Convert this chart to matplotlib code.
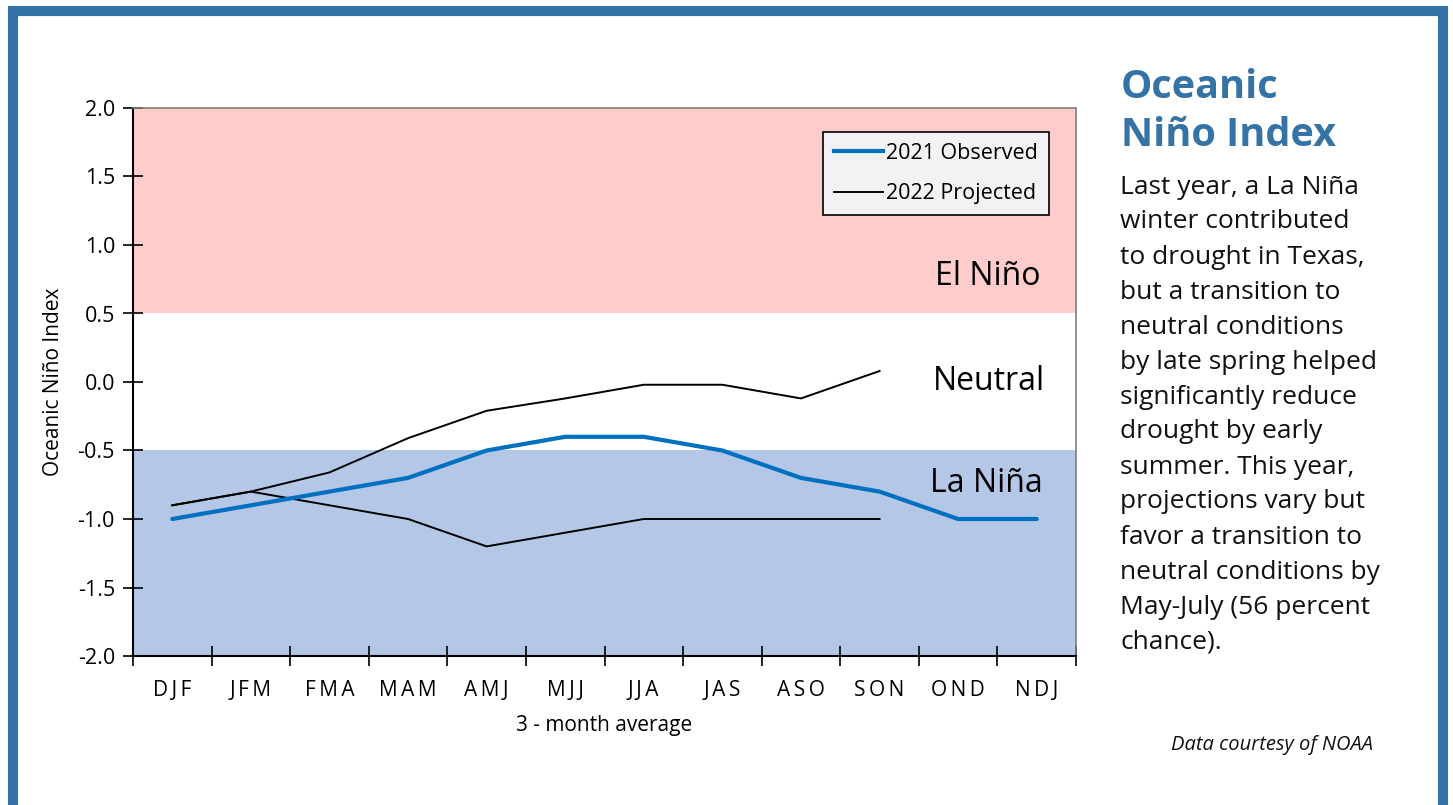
import matplotlib
matplotlib.use("Agg")
import matplotlib.pyplot as plt
from matplotlib.patches import Rectangle
from matplotlib.lines import Line2D

# data
seasons = ["DJF", "JFM", "FMA", "MAM", "AMJ", "MJJ",
           "JJA", "JAS", "ASO", "SON", "OND", "NDJ"]
observed_2021 = [-1.0, -0.9, -0.8, -0.7, -0.5, -0.4, -0.4, -0.5, -0.7, -0.8, -1.0, -1.0]
projected_high = [-0.9, -0.8, -0.66, -0.41, -0.21, -0.12, -0.02, -0.02, -0.12, 0.08]
projected_low = [-0.9, -0.8, -0.9, -1.0, -1.2, -1.1, -1.0, -1.0, -1.0, -1.0]
y_ticks = [2.0, 1.5, 1.0, 0.5, 0.0, -0.5, -1.0, -1.5, -2.0]

body_lines = [
    "Last year, a La Niña",
    "winter contributed",
    "to drought in Texas,",
    "but a transition to",
    "neutral conditions",
    "by late spring helped",
    "significantly reduce",
    "drought by early",
    "summer. This year,",
    "projections vary but",
    "favor a transition to",
    "neutral conditions by",
    "May-July (56 percent",
    "chance).",
]

BLUE_FRAME = "#3572A5"
plt.rcParams["font.family"] = ["Open Sans", "DejaVu Sans"]

W, H = 1453, 805
fig = plt.figure(figsize=(W / 100, H / 100), dpi=100)
fig.patch.set_facecolor("white")

# outer frame
fig.add_artist(Rectangle((13 / W, -0.02), 1430 / W, 1 - 10.5 / H + 0.02,
                         transform=fig.transFigure, fill=False,
                         edgecolor=BLUE_FRAME, linewidth=7.3))

ax = fig.add_axes([133 / W, 1 - 656 / H, (1076 - 133) / W, (656 - 108) / H])
n = len(seasons)
ax.set_xlim(-0.5, n - 0.5)
ax.set_ylim(-2.0, 2.0)

# ENSO bands
ax.axhspan(0.5, 2.0, color="#FFCCCC", zorder=0, lw=0)
ax.axhspan(-2.0, -0.5, color="#B4C7E7", zorder=0, lw=0)

x_obs = list(range(len(observed_2021)))
x_proj = list(range(len(projected_high)))
ax.plot(x_obs, observed_2021, color="#0070C0", lw=3.0, solid_capstyle="round", zorder=3)
ax.plot(x_proj, projected_high, color="black", lw=1.4, zorder=2)
ax.plot(x_proj, projected_low, color="black", lw=1.4, zorder=2)

# axes styling
ax.set_yticks(y_ticks)
ax.set_yticklabels([f"{v:.1f}" for v in y_ticks], fontsize=15.5)
ax.set_xticks([i - 0.5 for i in range(n + 1)])
ax.set_xticklabels([])
ax.set_xticks(range(n), minor=True)
spaced = ["\u2009".join(s) for s in seasons]
ax.set_xticklabels(spaced, minor=True, fontsize=15)
ax.tick_params(axis="x", which="minor", length=0, pad=17)
ax.tick_params(axis="both", which="major", direction="inout", length=14, width=1.2)
ax.tick_params(axis="y", pad=6)
for side in ["left", "bottom"]:
    ax.spines[side].set_linewidth(1.5)
    ax.spines[side].set_color("black")
for side in ["top", "right"]:
    ax.spines[side].set_linewidth(1.2)
    ax.spines[side].set_color("#7f7f7f")

ax.set_xlabel("3 - month average", fontsize=15, labelpad=10)
ax.set_ylabel("Oceanic Niño Index", fontsize=15, labelpad=10)

# band labels
ax.text(11.05, 0.77, "El Niño", fontsize=23, ha="right", va="center")
ax.text(11.1, 0.0, "Neutral", fontsize=23, ha="right", va="center")
ax.text(11.08, -0.74, "La Niña", fontsize=23, ha="right", va="center")

handles = [Line2D([], [], color="#0070C0", lw=3.0),
           Line2D([], [], color="black", lw=1.4)]
leg = ax.legend(handles, ["2021 Observed", "2022 Projected"], loc="upper right",
                bbox_to_anchor=(0.9714, 0.9562), fontsize=15.5, frameon=True,
                fancybox=False, edgecolor="black", facecolor="#F2F2F2",
                framealpha=1, handlelength=2.3, handletextpad=0.15,
                labelspacing=0.9, borderpad=0.5, borderaxespad=0)
leg.get_frame().set_linewidth(1.2)

# side panel
fig.text(1121 / W, 1 - 87 / H, "Oceanic", fontsize=28.5, fontweight="bold",
         color=BLUE_FRAME, va="center", ha="left")
fig.text(1121 / W, 1 - 135 / H, "Niño Index", fontsize=28.5, fontweight="bold",
         color=BLUE_FRAME, va="center", ha="left")
y0 = 187
step = (642 - 187) / (len(body_lines) - 1)
for i, line in enumerate(body_lines):
    fig.text(1120 / W, 1 - (y0 + i * step) / H, line, fontsize=19,
             color="#111111", va="center", ha="left")
fig.text(1373 / W, 1 - 745 / H, "Data courtesy of NOAA", fontsize=14.5,
         style="italic", color="#111111", va="center", ha="right")

fig.savefig("out.png", dpi=100)
